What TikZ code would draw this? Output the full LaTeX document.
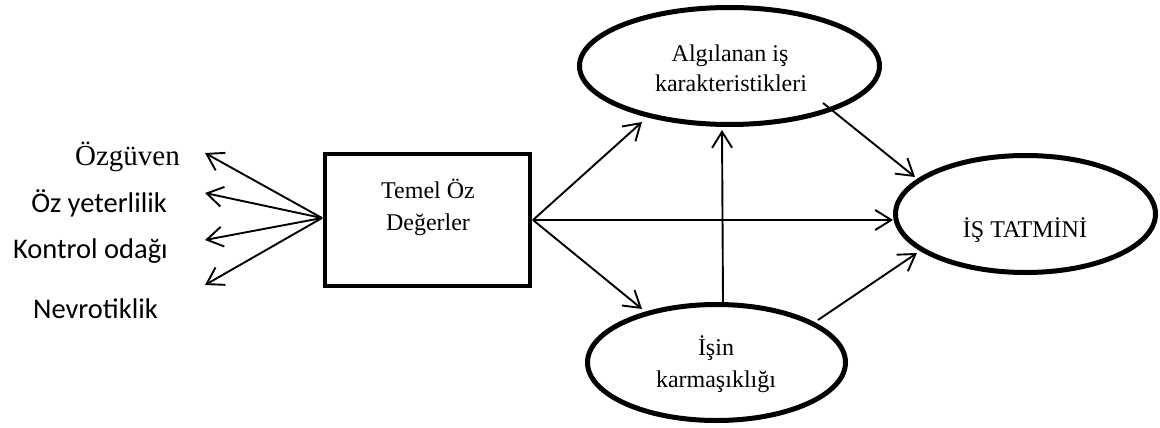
\documentclass[tikz,border=0pt]{standalone}
\usepackage{fontspec}
\setmainfont{Liberation Serif}
\newfontfamily\calfont{Carlito}
\usetikzlibrary{arrows.meta,shapes.geometric}
\begin{document}
\begin{tikzpicture}[x=1pt,y=-1pt,
  ell/.style={ellipse,draw,line width=5pt,inner sep=0pt},
  boxst/.style={rectangle,draw,line width=4.5pt,inner sep=0pt},
  lbl/.style={anchor=base,inner sep=0pt,font=\fontsize{24}{30}\selectfont},
  conn/.style={line width=1.9pt,-{Straight Barb[length=16pt,width=20pt]}},
  side/.style={anchor=base east,inner sep=0pt,font=\calfont\fontsize{28.5}{34}\selectfont}]
\useasboundingbox (0,0) rectangle (1160,428);
% shapes
\node[boxst,minimum width=205pt,minimum height=132pt] (box) at (427.5,220) {};
\node[ell,minimum width=300pt,minimum height=117pt] (A) at (729.5,66) {};
\node[ell,minimum width=258pt,minimum height=116pt] (B) at (716.5,362.5) {};
\node[ell,minimum width=260pt,minimum height=117pt] (C) at (1025.5,214) {};
% texts
\node[lbl] (boxt1) at (428,198) {Temel Öz};
\node[lbl] (boxt2) at (428,230) {Değerler};
\node[lbl] (At1) at (730,62) {Algılanan iş};
\node[lbl] (At2) at (731,92) {karakteristikleri};
\node[lbl] (Bt1) at (716,355) {İşin};
\node[lbl] (Bt2) at (716,387) {karmaşıklığı};
\node[lbl] (Ct) at (1025,237) {İŞ TATMİNİ};
\node[anchor=base east,inner sep=0pt,font=\fontsize{29}{34}\selectfont] (l1) at (180,165) {Özgüven};
\node[side] (l2) at (167,212) {Öz yeterlilik};
\node[side] (l3) at (168,258) {Kontrol odağı};
\node[side] (l4) at (158,318) {Nevrotiklik};
% arrow end points
\coordinate (o1) at (205,153);
\coordinate (o2) at (205,193);
\coordinate (o3) at (205,240);
\coordinate (o4) at (205,285);
\coordinate (tA1) at (642,122);
\coordinate (tC1) at (893,220);
\coordinate (tB1) at (642,309);
\coordinate (sB) at (723,302);
\coordinate (tA2) at (722,130);
\coordinate (sA) at (823,103);
\coordinate (tC2) at (915,177);
\coordinate (sB2) at (818,320);
\coordinate (tC3) at (917,253);
\coordinate (bw) at (322,218);
\coordinate (be) at (533,220);
% connectors
\foreach \t in {o1,o2,o3,o4} \draw[conn] (bw) -- (\t);
\draw[conn] (be) -- (tA1);
\draw[conn] (be) -- (tC1);
\draw[conn] (be) -- (tB1);
\draw[conn] (sB) -- (tA2);
\draw[conn] (sA) -- (tC2);
\draw[conn] (sB2) -- (tC3);
\end{tikzpicture}
\end{document}
